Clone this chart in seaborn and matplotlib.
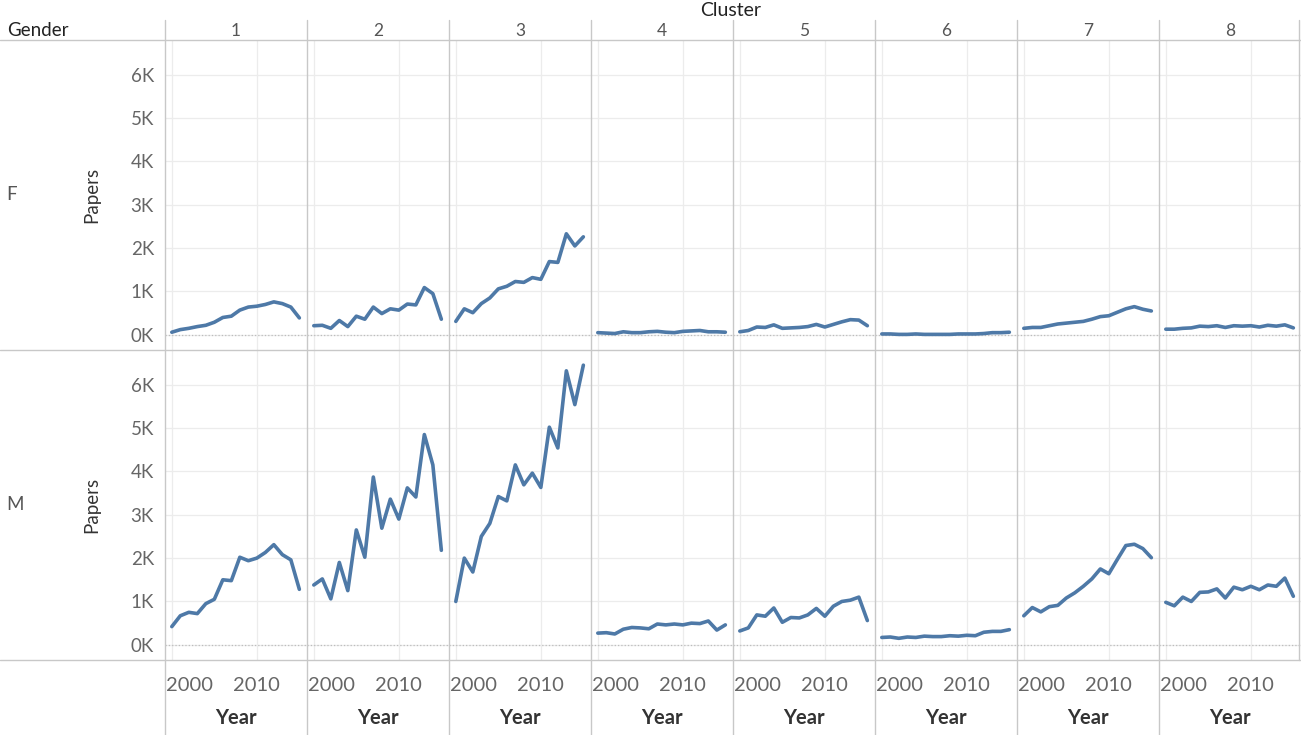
# Papers per year by gender and cluster, small multiples in the Tableau style

import numpy as np
import pandas as pd
import seaborn as sns
import matplotlib.pyplot as plt
import matplotlib.transforms as mtransforms
from matplotlib.lines import Line2D
from matplotlib.ticker import FuncFormatter

years = list(range(2000, 2016))
clusters = [1, 2, 3, 4, 5, 6, 7, 8]
genders = ['F', 'M']

# papers per year, in thousands
f_c1 = [0.06, 0.12, 0.15, 0.19, 0.22, 0.29, 0.40, 0.43, 0.57, 0.64, 0.66, 0.70, 0.76, 0.72, 0.64, 0.39]
f_c2 = [0.21, 0.22, 0.15, 0.33, 0.19, 0.43, 0.36, 0.64, 0.49, 0.60, 0.57, 0.71, 0.69, 1.09, 0.95, 0.36]
f_c3 = [0.31, 0.60, 0.51, 0.72, 0.85, 1.06, 1.12, 1.23, 1.21, 1.32, 1.28, 1.69, 1.67, 2.33, 2.05, 2.26]
f_c4 = [0.05, 0.04, 0.03, 0.07, 0.05, 0.05, 0.07, 0.08, 0.06, 0.05, 0.08, 0.09, 0.10, 0.07, 0.07, 0.06]
f_c5 = [0.07, 0.10, 0.18, 0.17, 0.23, 0.15, 0.16, 0.17, 0.19, 0.24, 0.18, 0.24, 0.30, 0.35, 0.34, 0.21]
f_c6 = [0.02, 0.02, 0.01, 0.01, 0.02, 0.01, 0.01, 0.01, 0.01, 0.02, 0.02, 0.02, 0.03, 0.05, 0.05, 0.06]
f_c7 = [0.15, 0.17, 0.17, 0.21, 0.25, 0.27, 0.29, 0.31, 0.36, 0.42, 0.44, 0.52, 0.60, 0.65, 0.59, 0.55]
f_c8 = [0.13, 0.13, 0.15, 0.16, 0.20, 0.19, 0.21, 0.17, 0.21, 0.20, 0.21, 0.18, 0.22, 0.20, 0.23, 0.16]

m_c1 = [0.42, 0.67, 0.75, 0.72, 0.95, 1.05, 1.50, 1.48, 2.02, 1.94, 2.00, 2.13, 2.31, 2.08, 1.96, 1.28]
m_c2 = [1.38, 1.52, 1.06, 1.90, 1.25, 2.65, 2.02, 3.87, 2.69, 3.36, 2.90, 3.62, 3.41, 4.85, 4.15, 2.18]
m_c3 = [1.00, 2.00, 1.68, 2.50, 2.80, 3.42, 3.32, 4.15, 3.69, 3.96, 3.63, 5.02, 4.54, 6.32, 5.54, 6.45]
m_c4 = [0.27, 0.28, 0.25, 0.36, 0.40, 0.39, 0.37, 0.48, 0.46, 0.48, 0.46, 0.50, 0.49, 0.55, 0.34, 0.46]
m_c5 = [0.32, 0.39, 0.69, 0.66, 0.85, 0.52, 0.63, 0.62, 0.69, 0.84, 0.66, 0.89, 1.00, 1.03, 1.10, 0.56]
m_c6 = [0.17, 0.18, 0.15, 0.18, 0.17, 0.20, 0.19, 0.19, 0.21, 0.20, 0.22, 0.21, 0.29, 0.31, 0.31, 0.35]
m_c7 = [0.67, 0.86, 0.76, 0.88, 0.91, 1.08, 1.20, 1.35, 1.52, 1.75, 1.64, 1.97, 2.29, 2.32, 2.22, 2.01]
m_c8 = [0.98, 0.90, 1.10, 1.00, 1.21, 1.22, 1.29, 1.08, 1.33, 1.27, 1.35, 1.27, 1.38, 1.35, 1.54, 1.12]

series = {
    'F': [f_c1, f_c2, f_c3, f_c4, f_c5, f_c6, f_c7, f_c8],
    'M': [m_c1, m_c2, m_c3, m_c4, m_c5, m_c6, m_c7, m_c8],
}

rows = []
for g in genders:
    for c, vals in zip(clusters, series[g]):
        for y, v in zip(years, vals):
            rows.append({'Gender': g, 'Cluster': c, 'Year': y, 'Papers': v * 1000})
df = pd.DataFrame(rows)

sns.set_theme(style='white')
plt.rcParams['font.family'] = ['Lato', 'DejaVu Sans']

W, H = 1301, 735
sep = '#c8c8c8'
grid = '#ececec'
blue = '#4e79a7'

g = sns.relplot(data=df, x='Year', y='Papers', row='Gender', col='Cluster',
                row_order=genders, col_order=clusters, kind='line',
                color=blue, linewidth=2.6, height=3.1, aspect=142 / 310,
                facet_kws=dict(sharex=True, sharey=True, despine=False))
fig = g.figure
fig.set_size_inches(W / 100, H / 100)
fig.subplots_adjust(left=165 / W, right=1.0, top=1 - 40 / H, bottom=1 - 660 / H,
                    wspace=0, hspace=0)
g.set_titles('')
g.set(xlim=(1999.2, 2015.9), ylim=(-350, 6800))

shift = mtransforms.ScaledTranslation(-6 / 100, 0, fig.dpi_scale_trans)

for (i, j), ax in np.ndenumerate(g.axes):
    for s in ax.spines.values():
        s.set_visible(False)
    ax.set_xticks([2000, 2010])
    ax.set_yticks([0, 1000, 2000, 3000, 4000, 5000, 6000])
    ax.grid(True, color=grid, linewidth=0.9)
    ax.set_axisbelow(True)
    ax.axhline(0, color='#bdbdbd', linestyle=':', linewidth=0.9, zorder=1)
    ax.tick_params(length=0, labelsize=13.5, colors='#666666', pad=8)
    ax.yaxis.set_major_formatter(FuncFormatter(lambda v, p: f'{v / 1000:.0f}K'))
    ax.set_xlabel('')
    ax.set_ylabel('')
    if j == 0:
        ax.set_ylabel('Papers', fontsize=13.5, color='#333333', labelpad=22)
    if i == 1:
        ax.set_xlabel('Year', fontsize=14.5, fontweight='bold', color='#333333', labelpad=10)
        ax.tick_params(axis='x', labelsize=14.5, pad=12)
        first = ax.get_xticklabels()[0]
        first.set_horizontalalignment('left')
        first.set_transform(first.get_transform() + shift)

# separators in figure pixels
def hline(y, x0=0, x1=W):
    fig.add_artist(Line2D([x0 / W, x1 / W], [1 - y / H, 1 - y / H], color=sep, linewidth=1.0))

def vline(x, y0, y1):
    fig.add_artist(Line2D([x / W, x / W], [1 - y0 / H, 1 - y1 / H], color=sep, linewidth=1.0))

for y in [40, 350, 660]:
    hline(y)
for k in range(8):
    vline(165 + 142 * k, 20, H)
vline(W - 2, 20, 660)

# headers
fig.text(731 / W, 1 - 11 / H, 'Cluster', ha='center', va='center', fontsize=14,
         color='#222222')
fig.text(7 / W, 1 - 31 / H, 'Gender', ha='left', va='center', fontsize=13.5,
         color='#222222')
for k, c in enumerate(clusters):
    fig.text((165 + 142 * k + 71) / W, 1 - 31 / H, str(c), ha='center', va='center',
             fontsize=12.5, color='#555555')
fig.text(12 / W, 1 - 195 / H, 'F', ha='center', va='center', fontsize=13.5, color='#555555')
fig.text(15 / W, 1 - 505 / H, 'M', ha='center', va='center', fontsize=13.5, color='#555555')

fig.savefig('out.png', dpi=100, facecolor='white')
